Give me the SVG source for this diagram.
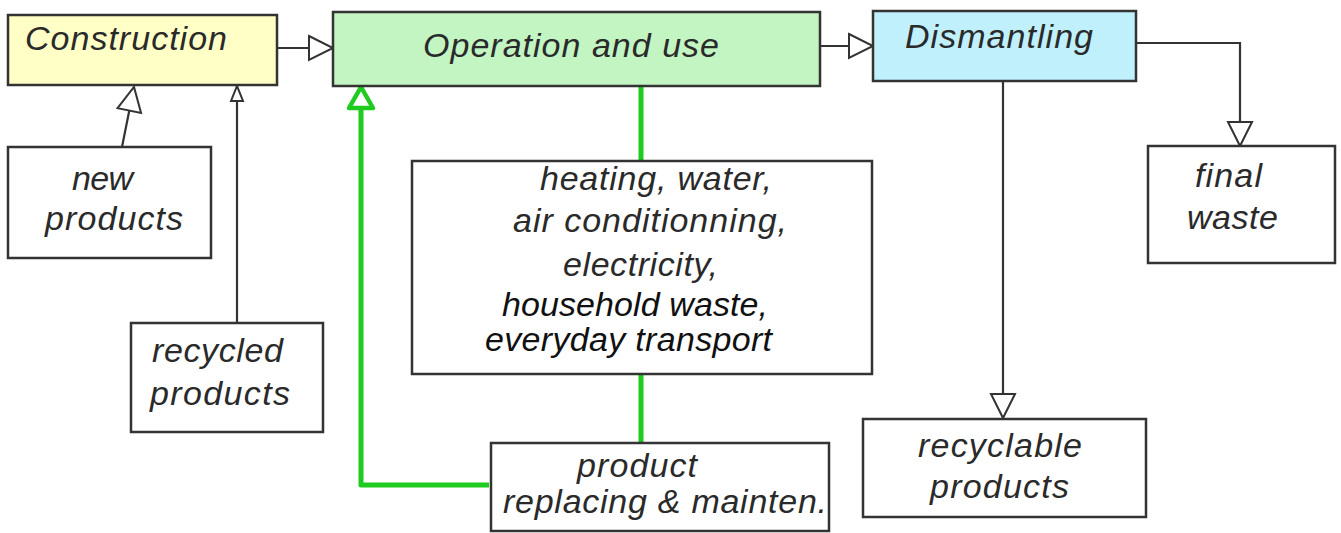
<svg xmlns="http://www.w3.org/2000/svg" width="1341" height="533" viewBox="0 0 1341 533">
<defs>
<style>
.box{stroke:#333;stroke-width:2.5;fill:#fff}
.t{font-family:"Liberation Sans",Arial,sans-serif;font-style:italic;font-size:34px;fill:#2a2a2a}
.c{fill:none;stroke:#333;stroke-width:2.2}
.g{fill:none;stroke:#1ecb1e;stroke-width:5}
</style>
<marker id="tri" markerUnits="userSpaceOnUse" markerWidth="30" markerHeight="30" refX="25" refY="13" orient="auto" overflow="visible">
<path d="M1,1 L25,13 L1,25 Z" fill="#fff" stroke="#333" stroke-width="2"/>
</marker>
<marker id="tris" markerUnits="userSpaceOnUse" markerWidth="20" markerHeight="20" refX="16" refY="7" orient="auto" overflow="visible">
<path d="M1,1 L16,7 L1,13 Z" fill="#fff" stroke="#333" stroke-width="2"/>
</marker>
<marker id="trig" markerUnits="userSpaceOnUse" markerWidth="30" markerHeight="34" refX="23" refY="14" orient="auto" overflow="visible">
<path d="M2,2 L23,14 L2,26 Z" fill="#fff" stroke="#1ecb1e" stroke-width="4.5" stroke-linejoin="round"/>
</marker>
</defs>
<g id="connectors">
<path class="c" d="M277,48 L333,48" marker-end="url(#tri)"/>
<path class="c" d="M820,46 L873,46" marker-end="url(#tri)"/>
<path class="c" d="M1136,43 L1240,43 L1240,146" marker-end="url(#tri)"/>
<path class="c" d="M1003,82 L1003,418" marker-end="url(#tri)"/>
<path class="c" d="M122,147 L134,87" marker-end="url(#tri)"/>
<path class="c" d="M237,323 L237,86" marker-end="url(#tris)"/>
<path class="g" d="M641,86 L641,161"/>
<path class="g" d="M641,374 L641,443"/>
<path class="g" d="M489,485 L361,485 L361,87" stroke-linejoin="round" marker-end="url(#trig)"/>
</g>
<g id="construction">
<rect class="box" x="8" y="15" width="269" height="70" style="fill:#ffffc6"/>
<text class="t" x="25" y="50" textLength="202" lengthAdjust="spacing">Construction</text>
</g>
<g id="operation">
<rect class="box" x="333" y="12" width="487" height="74" style="fill:#c3f5c3"/>
<text class="t" x="423" y="57" textLength="296" lengthAdjust="spacing">Operation and use</text>
</g>
<g id="dismantling">
<rect class="box" x="873" y="11" width="263" height="70" style="fill:#bff0fc"/>
<text class="t" x="905" y="48" textLength="188" lengthAdjust="spacing">Dismantling</text>
</g>
<g id="final-waste">
<rect class="box" x="1148" y="146" width="187" height="117"/>
<text class="t" x="1195" y="187" textLength="67" lengthAdjust="spacing">final</text>
<text class="t" x="1187" y="229" textLength="91" lengthAdjust="spacing">waste</text>
</g>
<g id="recyclable-products">
<rect class="box" x="863" y="419" width="283" height="98"/>
<text class="t" x="918" y="457" textLength="164" lengthAdjust="spacing">recyclable</text>
<text class="t" x="930" y="498" textLength="139" lengthAdjust="spacing">products</text>
</g>
<g id="new-products">
<rect class="box" x="8" y="147" width="203" height="111"/>
<text class="t" x="72" y="190" textLength="61" lengthAdjust="spacing">new</text>
<text class="t" x="45" y="230" textLength="138" lengthAdjust="spacing">products</text>
</g>
<g id="recycled-products">
<rect class="box" x="131" y="323" width="192" height="109"/>
<text class="t" x="152" y="362" textLength="131" lengthAdjust="spacing">recycled</text>
<text class="t" x="150" y="405" textLength="140" lengthAdjust="spacing">products</text>
</g>
<g id="consumption">
<rect class="box" x="412" y="161" width="460" height="213"/>
<text class="t" x="540" y="190" textLength="232" lengthAdjust="spacing">heating, water,</text>
<text class="t" x="513" y="232" textLength="274" lengthAdjust="spacing">air conditionning,</text>
<text class="t" x="563" y="276" textLength="155" lengthAdjust="spacing">electricity,</text>
<text class="t" x="502" y="316" textLength="266" lengthAdjust="spacing" style="fill:#111">household waste,</text>
<text class="t" x="485" y="351" textLength="287" lengthAdjust="spacing" style="fill:#111">everyday transport</text>
</g>
<g id="replacing">
<rect class="box" x="491" y="443" width="338" height="88"/>
<text class="t" x="577" y="477" textLength="120" lengthAdjust="spacing">product</text>
<text class="t" x="503" y="513" textLength="324" lengthAdjust="spacing">replacing &amp; mainten.</text>
</g>
</svg>
